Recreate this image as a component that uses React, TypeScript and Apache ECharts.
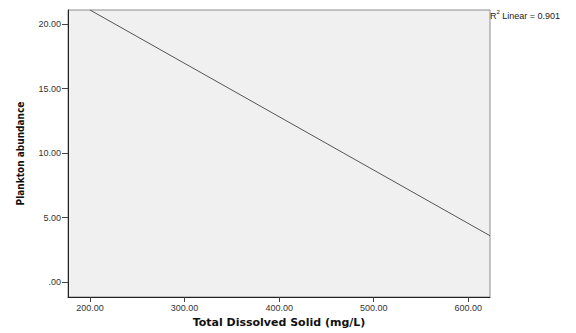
import React, { useEffect, useRef } from "react";
import * as echarts from "echarts";

const xTicks = [200, 300, 400, 500, 600];
const yTicks = [0, 5, 10, 15, 20];
const fitLine: [number, number][] = [
  [200, 21.1],
  [623, 3.6],
];
const xRange = [176.7, 623];
const yRange = [-1.15, 21.1];
const r2Text = "0.901";

export default function App() {
  const ref = useRef<HTMLDivElement>(null);
  useEffect(() => {
    if (!ref.current) return;
    const chart = echarts.init(ref.current, null, { renderer: "svg" });
    const labelFont = "'Liberation Sans', Arial, sans-serif";
    chart.setOption({
      animation: false,
      backgroundColor: "#ffffff",
      grid: {
        left: 68,
        right: 86,
        top: 10,
        bottom: 32,
        show: true,
        backgroundColor: "#f0f0f0",
        borderColor: "#8c8c8c",
        borderWidth: 1,
      },
      xAxis: {
        type: "value",
        min: xRange[0],
        max: xRange[1],
        splitLine: { show: false },
        axisLine: { show: true, onZero: false, lineStyle: { color: "#222", width: 1 } },
        axisTick: { show: true, customValues: xTicks, length: 5, lineStyle: { color: "#444" } },
        axisLabel: {
          customValues: xTicks,
          formatter: (v: number) => v.toFixed(2),
          fontFamily: labelFont,
          fontSize: 9,
          color: "#333",
          margin: 6,
        },
        name: "Total Dissolved Solid (mg/L)",
        nameLocation: "middle",
        nameGap: 20,
        nameTextStyle: {
          fontFamily: "'DejaVu Sans', sans-serif",
          fontWeight: "bold",
          fontSize: 11,
          color: "#111",
        },
      },
      yAxis: {
        type: "value",
        min: yRange[0],
        max: yRange[1],
        splitLine: { show: false },
        axisLine: { show: true, onZero: false, lineStyle: { color: "#222", width: 1 } },
        axisTick: { show: true, customValues: yTicks, length: 6, lineStyle: { color: "#444" } },
        axisLabel: {
          customValues: yTicks,
          formatter: (v: number) => (v === 0 ? ".00" : v.toFixed(2)),
          fontFamily: labelFont,
          fontSize: 9,
          color: "#333",
          margin: 7,
        },
        name: "Plankton abundance",
        nameLocation: "middle",
        nameGap: 43,
        nameTextStyle: {
          fontFamily: "'Liberation Sans Narrow', 'Arial Narrow', 'DejaVu Sans Condensed', sans-serif",
          fontWeight: "bold",
          fontSize: 10,
          color: "#111",
        },
      },
      series: [
        {
          type: "line",
          data: fitLine,
          symbol: "none",
          clip: true,
          lineStyle: { color: "#555", width: 1 },
        },
      ],
      graphic: [
        {
          type: "text",
          left: 490,
          top: 9,
          style: {
            text: "{n|R}{s|2}{n| Linear = " + r2Text + "}",
            rich: {
              n: { fontFamily: labelFont, fontSize: 9, fill: "#222", verticalAlign: "top", padding: [2, 0, 0, 0] },
              s: { fontFamily: labelFont, fontSize: 6, fill: "#222", verticalAlign: "top" },
            },
          },
        },
      ],
    });
    return () => chart.dispose();
  }, []);
  return (
    <div
      ref={ref}
      style={{ position: "fixed", left: 0, top: 0, width: 576, height: 333 }}
    />
  );
}
